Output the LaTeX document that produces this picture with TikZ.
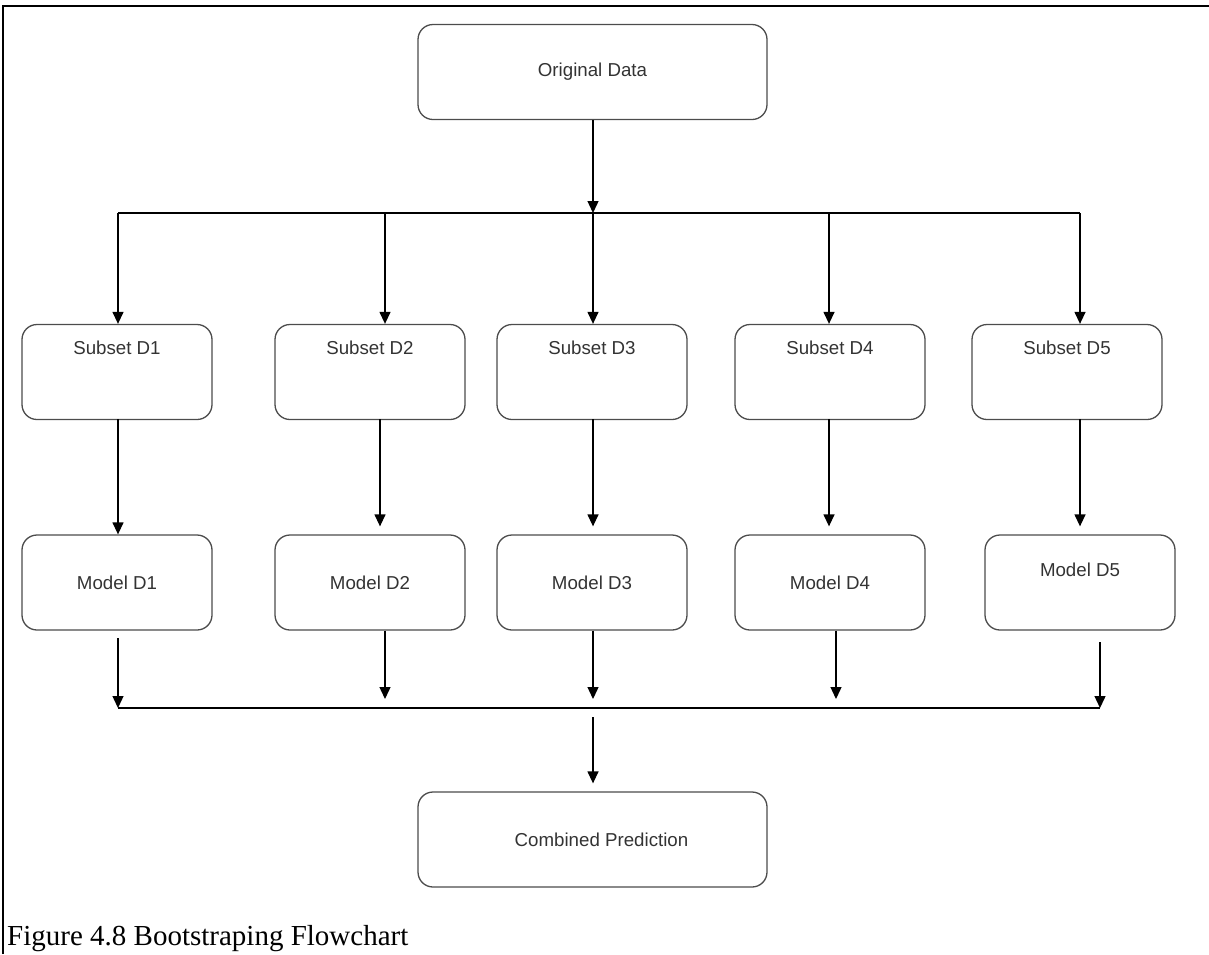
\documentclass[tikz,border=0pt]{standalone}
\usepackage{fontspec}
\setmainfont{Liberation Serif}
\newfontfamily\boxfont{Liberation Sans}
\usetikzlibrary{arrows.meta}
\begin{document}
\begin{tikzpicture}[x=1pt,y=-1pt,
  txt/.style={font=\boxfont\fontsize{18.7}{22}\selectfont,text=black!80},
  box/.style={draw=black!70,line width=1.3pt,rounded corners=15pt,minimum width=190pt,minimum height=95pt,inner sep=0pt,txt},
  wide/.style={box,minimum width=349pt},
  arr/.style={draw=black,line width=1.3pt,-{Triangle[length=12pt,width=11pt]}},
  bus/.style={draw=black,line width=1.3pt},
  frame/.style={draw=black,line width=2.5pt}
]
\useasboundingbox (0,0) rectangle (1209,954);
% frame
\coordinate (ftl) at (3,6);
\coordinate (ftr) at (1209,6);
\coordinate (fbl) at (3,954);
\draw[frame] (fbl) -- (ftl) -- (ftr);

% nodes
\node[wide] (orig) at (592.5,72) {Original Data};
\node[box] (s1) at (117,372) {};
\node[box] (s2) at (370,372) {};
\node[box] (s3) at (592,372) {};
\node[box] (s4) at (830,372) {};
\node[box] (s5) at (1067,372) {};
\foreach \i in {1,...,5}{
  \node[txt] (st\i) at ([yshift=-24]s\i.north) {Subset D\i};
}
\node[box] (m1) at (117,582.5) {Model D1};
\node[box] (m2) at (370,582.5) {Model D2};
\node[box] (m3) at (592,582.5) {Model D3};
\node[box] (m4) at (830,582.5) {Model D4};
\node[box] (m5) at (1080,582.5) {};
\node[txt] (mt5) at ([yshift=-35]m5.north) {Model D5};
\node[wide] (comb) at (592.5,839.5) {};
\node[txt] (ct) at ([xshift=9]comb.center) {Combined Prediction};

% top bus
\coordinate (tb1) at (118,213);
\coordinate (tb2) at (385,213);
\coordinate (tb3) at (593,213);
\coordinate (tb4) at (829,213);
\coordinate (tb5) at (1080,213);
\draw[bus] (tb1) -- (tb5);
\draw[arr] (orig.south -| tb3) -- (tb3);
\draw[arr] (tb1) -- (tb1 |- s1.north);
\draw[arr] (tb2) -- (tb2 |- s2.north);
\draw[arr] (tb3) -- (tb3 |- s3.north);
\draw[arr] (tb4) -- (tb4 |- s4.north);
\draw[arr] (tb5) -- (tb5 |- s5.north);

% subset -> model
\coordinate (sm1) at (118,419);
\coordinate (sm2) at (380,419);
\coordinate (sm3) at (593,419);
\coordinate (sm4) at (829,419);
\coordinate (sm5) at (1080,419);
\draw[arr] (sm1) -- (sm1 |- m1.north);
\draw[arr] (sm2) -- ([yshift=8]sm2 |- m2.north);
\draw[arr] (sm3) -- ([yshift=8]sm3 |- m3.north);
\draw[arr] (sm4) -- ([yshift=8]sm4 |- m4.north);
\draw[arr] (sm5) -- ([yshift=8]sm5 |- m5.north);

% bottom bus
\coordinate (bb1) at (118,708);
\coordinate (bb2) at (385,699);
\coordinate (bb3) at (593,699);
\coordinate (bb4) at (836,699);
\coordinate (bb5) at (1100,708);
\coordinate (bs1) at (118,638);
\coordinate (bs5) at (1100,642);
\draw[bus] (bb1) -- (bb5);
\draw[arr] (bs1) -- (bb1);
\draw[arr] (bb2 |- m2.south) -- (bb2);
\draw[arr] (bb3 |- m3.south) -- (bb3);
\draw[arr] (bb4 |- m4.south) -- (bb4);
\draw[arr] (bs5) -- (bb5);
\coordinate (cs) at (593,717);
\draw[arr] (cs) -- ([yshift=8]cs |- comb.north);

% caption
\node[anchor=base west,inner sep=0pt,font=\fontsize{29}{32}\selectfont] (cap) at (7,945) {Figure 4.8 Bootstraping Flowchart};
\end{tikzpicture}
\end{document}
